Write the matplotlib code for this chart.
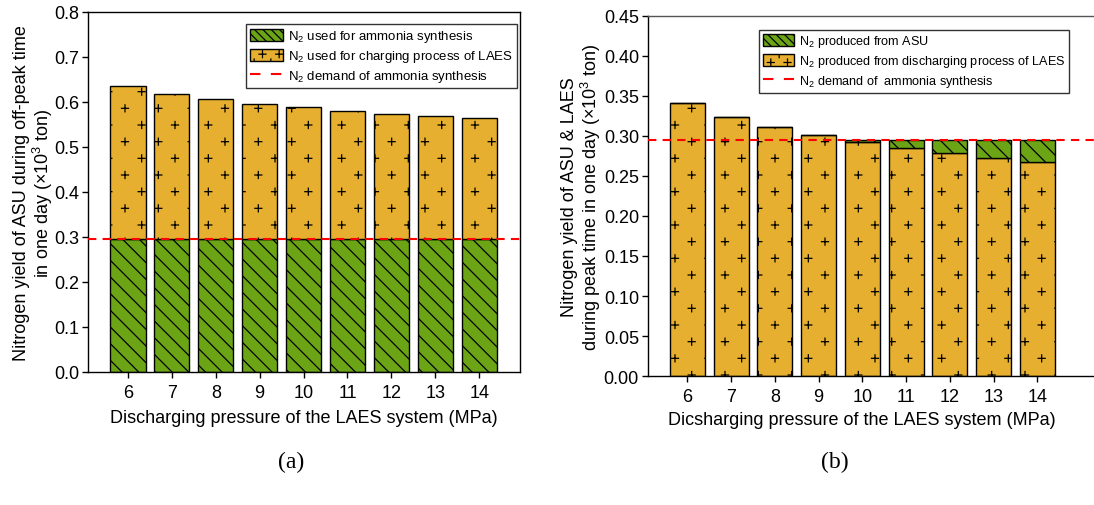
import numpy as np
import matplotlib
matplotlib.use("Agg")
import matplotlib.pyplot as plt
from matplotlib import hatch as mhatch
from matplotlib.path import Path
from matplotlib.patches import Patch
from matplotlib.lines import Line2D

# ---------------- data ----------------
pressure = [6, 7, 8, 9, 10, 11, 12, 13, 14]
demand = 0.295

# (a) off-peak ASU output: ammonia share + LAES charging share
asu_offpeak_total = [0.636, 0.618, 0.606, 0.596, 0.588, 0.581, 0.574, 0.569, 0.564]
ammonia_used = [0.295] * 9

# (b) peak-time supply: LAES discharge + ASU top-up
laes_discharge = [0.341, 0.324, 0.311, 0.301, 0.292, 0.285, 0.279, 0.273, 0.268]
asu_peak = [0.0, 0.0, 0.0, 0.0, 0.003, 0.010, 0.016, 0.022, 0.027]

xlabel_a = "Discharging pressure of the LAES system (MPa)"
xlabel_b = "Dicsharging pressure of the LAES system (MPa)"
ylabel_a = "Nitrogen yield of ASU during off-peak time\nin one day (\u00d710$^3$ ton)"
ylabel_b = "Nitrogen yield of ASU & LAES\nduring peak time in one day (\u00d710$^3$ ton)"
legend_a = ["N$_2$ used for ammonia synthesis",
            "N$_2$ used for charging process of LAES",
            "N$_2$ demand of ammonia synthesis"]
legend_b = ["N$_2$ produced from ASU",
            "N$_2$ produced from discharging process of LAES",
            "N$_2$ demand of  ammonia synthesis"]

ORANGE = "#E6AF2F"
GREEN = "#6BA516"
DASH = (0, (4, 3))


# ---------------- sparse "+" hatch (replaces the small-circle 'o' hatch) --------
class PlusHatch(mhatch.HatchPatternBase):
    def __init__(self, hatch, density):
        n = hatch.count('o')
        self.ncols = 6 * n
        self.nrows = 3 * n
        self.num_vertices = self.ncols * self.nrows * 4

    def set_vertices_and_codes(self, vertices, codes):
        arm = 0.035
        k = 0
        for i in range(self.ncols):
            x = (i + 0.5) / self.ncols
            for j in range(self.nrows):
                y = (j + 0.25 + 0.5 * (i % 2)) / self.nrows
                vertices[k:k + 4] = [[x - arm, y], [x + arm, y],
                                     [x, y - arm], [x, y + arm]]
                codes[k:k + 4] = [Path.MOVETO, Path.LINETO,
                                  Path.MOVETO, Path.LINETO]
                k += 4


mhatch._hatch_types[:] = [PlusHatch if t is mhatch.SmallCircles else t
                          for t in mhatch._hatch_types]

plt.rcParams['font.family'] = ['Liberation Sans', 'DejaVu Sans']
plt.rcParams['mathtext.fontset'] = 'custom'
plt.rcParams['mathtext.rm'] = 'Liberation Sans'
plt.rcParams['mathtext.it'] = 'Liberation Sans:italic'
plt.rcParams['hatch.linewidth'] = 0.9

fig = plt.figure(figsize=(10.94, 5.06), dpi=100)
W, H = 1094, 506


def axes_px(l, r, t, b):
    return fig.add_axes([l / W, 1 - b / H, (r - l) / W, (b - t) / H])


def style(ax):
    ax.tick_params(direction='out', length=4, width=1, labelsize=13,
                   top=False, right=False)
    ax.tick_params(axis='x', pad=4.5)
    ax.tick_params(axis='y', pad=2.5)
    for s in ax.spines.values():
        s.set_linewidth(1.0)
    ax.set_xticks(pressure)


def make_legend(ax, labels, fontsize, **kw):
    handles = [Patch(facecolor=GREEN, edgecolor='black', hatch='\\\\\\\\'),
               Patch(facecolor=ORANGE, edgecolor='black', hatch='oo'),
               Line2D([], [], color='red', ls=(0, (5, 5)), lw=1.5)]
    leg = ax.legend(handles, labels, fontsize=fontsize, frameon=True,
                    fancybox=False, edgecolor='#333333', handlelength=2.5,
                    handleheight=1.0, handletextpad=0.35, labelspacing=0.3,
                    borderpad=0.3, borderaxespad=0.0, framealpha=1.0, **kw)
    leg.get_frame().set_linewidth(1.0)
    return leg


# ---------------- (a) ----------------
ax1 = axes_px(88, 520, 13, 373)
charging = [t - a for t, a in zip(asu_offpeak_total, ammonia_used)]
ax1.bar(pressure, ammonia_used, width=0.8, color=GREEN, edgecolor='black',
        linewidth=1.0, hatch='\\\\', zorder=2)
ax1.bar(pressure, charging, bottom=ammonia_used, width=0.8, color=ORANGE,
        edgecolor='black', linewidth=1.0, hatch='o', zorder=2)
ax1.axhline(demand, color='red', ls=DASH, lw=1.5, zorder=3)
ax1.set_xlim(5.09, 14.93)
ax1.set_ylim(0, 0.8)
ax1.set_yticks(np.arange(0, 0.81, 0.1))
ax1.yaxis.set_major_formatter(matplotlib.ticker.FormatStrFormatter('%.1f'))
style(ax1)
ax1.set_xlabel(xlabel_a, fontsize=13)
ax1.xaxis.set_label_coords(0.5, -0.102)
ax1.set_ylabel(ylabel_a, fontsize=13, linespacing=1.05)
ax1.yaxis.set_label_coords(-0.077, 0.5)
make_legend(ax1, legend_a, 9.5, loc='upper right', bbox_to_anchor=(0.993, 0.966))

# ---------------- (b) ----------------
ax2 = axes_px(648, 1100, 17, 377)
ax2.bar(pressure, laes_discharge, width=0.8, color=ORANGE, edgecolor='black',
        linewidth=1.0, hatch='o', zorder=2)
ax2.bar(pressure, asu_peak, bottom=laes_discharge, width=0.8, color=GREEN,
        edgecolor='black', linewidth=1.0, hatch='\\\\', zorder=2)
ax2.axhline(demand, color='red', ls=DASH, lw=1.5, zorder=3)
ax2.set_xlim(5.1, 15.43)
ax2.set_ylim(0, 0.45)
ax2.set_yticks(np.arange(0, 0.451, 0.05))
ax2.yaxis.set_major_formatter(matplotlib.ticker.FormatStrFormatter('%.2f'))
style(ax2)
ax2.spines['right'].set_visible(False)
ax2.spines['top'].set_color('#555555')
ax2.set_xlabel(xlabel_b, fontsize=13)
ax2.xaxis.set_label_coords(0.472, -0.097)
ax2.set_ylabel(ylabel_b, fontsize=13, linespacing=1.05)
ax2.yaxis.set_label_coords(-0.1, 0.5)
make_legend(ax2, legend_b, 9.1, loc='upper left', bbox_to_anchor=(0.245, 0.962))

# panel tags
fig.text(291 / W, 1 - 462 / H, "(a)", ha='center', va='center',
         fontsize=17, family='Liberation Serif')
fig.text(835 / W, 1 - 462 / H, "(b)", ha='center', va='center',
         fontsize=17, family='Liberation Serif')

fig.savefig("out.png", dpi=100)
